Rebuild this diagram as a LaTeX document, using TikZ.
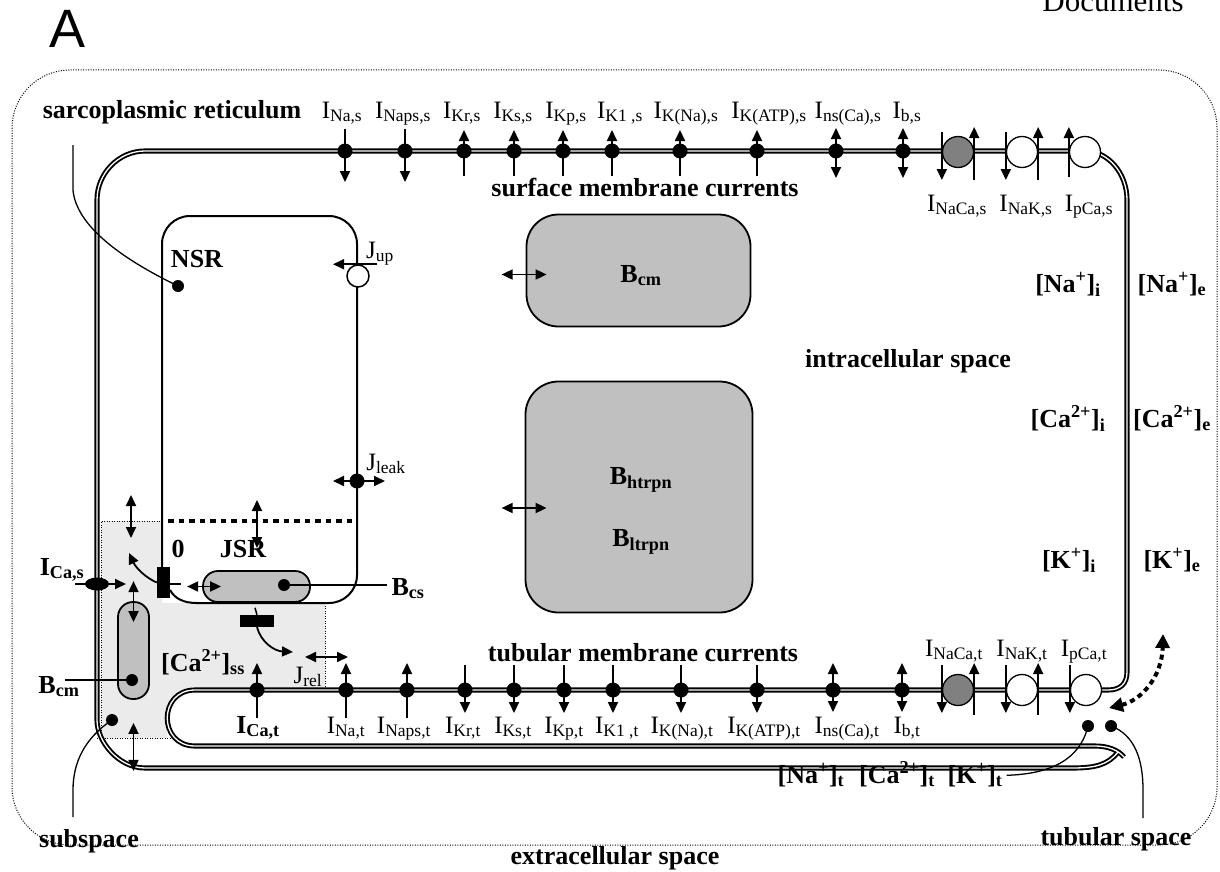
\documentclass[tikz,border=0pt]{standalone}
\usepackage{fontspec}
\setmainfont{Liberation Serif}
\newfontfamily\panelfont{Liberation Sans}
\usetikzlibrary{arrows.meta,shapes.geometric}

\definecolor{subgray}{RGB}{235,235,235}
\definecolor{bufgray}{RGB}{192,192,192}
\definecolor{exgray}{RGB}{128,128,128}

\newcommand\curfont{\fontsize{25}{28}\selectfont}
\newcommand\lblfont{\fontsize{26}{30}\selectfont\bfseries}

\tikzset{
  membrane/.style={line width=1.9pt, double=white, double distance=1.3pt},
  chan/.style={circle, fill=black, inner sep=0pt, minimum size=15pt},
  pump/.style={circle, draw, line width=1.3pt, fill=white, inner sep=0pt, minimum size=31pt},
  exch/.style={pump, fill=exgray},
  spot/.style={circle, fill=black, inner sep=0pt, minimum size=12pt},
  buffer/.style={draw, line width=1.8pt, fill=bufgray, inner sep=0pt},
  ryr/.style={fill=black, inner sep=0pt},
  flux/.style={line width=1.8pt, -{Triangle[length=11pt,width=10pt]}},
  bflux/.style={line width=1.8pt, {Triangle[length=11pt,width=10pt]}-{Triangle[length=11pt,width=10pt]}},
  dotflux/.style={line width=4pt, dash pattern=on 5pt off 4pt, {Triangle[length=14pt,width=14pt]}-{Triangle[length=14pt,width=14pt]}},
  cur/.style={font=\curfont, inner sep=0pt, anchor=base},
  lbl/.style={font=\lblfont, inner sep=0pt, anchor=base},
  lead/.style={line width=1.3pt},
  finedot/.style={line width=1pt, dash pattern=on 1pt off 1.5pt},
}

\begin{document}
\begin{tikzpicture}[x=1pt, y=-1pt]
    \useasboundingbox (0,0) rectangle (1220,872);

    \node[font={\panelfont\fontsize{54}{56}\selectfont}, inner sep=0pt, anchor=base] (panel) at (68,48) {A};
    \node[font=\fontsize{31}{34}\selectfont, inner sep=0pt, anchor=base] (docs) at (1113,12) {Documents};

    % サブスペースと細胞外の境界
    \fill[subgray] (101,521) -- (162,521) -- (162,603) -- (325,603) -- (325,690) -- (195,690) .. controls (179.5,690) and (167,702.5) .. (167,718) -- (167,738) -- (101,738) -- cycle;
    \draw[finedot] (101,738) -- (101,521) -- (162,521);
    \draw[finedot] (97,738) -- (172,738);
    \draw[finedot] (325,603) -- (325,690);
    \draw[finedot, rounded corners=58pt] (12,70) rectangle (1217,845);

    \draw[membrane] (1118,752) .. controls (1108,765) and (1095,768) .. (1072,768) -- (145,768) .. controls (118.5,768) and (97,741.5) .. (97,720) -- (97,200) .. controls (97,173.5) and (118.5,151) .. (145,151) -- (1085,151) .. controls (1108,151) and (1127,173) .. (1127,200) -- (1127,672) .. controls (1127,684) and (1120,690) .. (1108,690) -- (195,690) .. controls (158,690) and (158,746) .. (195,746) -- (1095,746) .. controls (1108,746) and (1118,750) .. (1124,757);

    % NSR / JSR
    \draw[line width=2pt, rounded corners=28pt] (196,603) -- (357,603) -- (357,216) -- (162,216) -- (162,568);
    \draw[line width=2pt] (170,590) .. controls (175,599) and (184,603) .. (197,603);
    \draw[line width=2pt] (170,584) -- (181,584);
    \draw[line width=4pt, dash pattern=on 5.5pt off 5pt] (168,521) -- (354,521);

    \node[buffer, rounded corners=32pt, minimum width=224pt, minimum height=112pt] (bcmbox) at (638.5,270.5) {};
    \node[buffer, rounded corners=33pt, minimum width=227pt, minimum height=231pt] (trpbox) at (639,497) {};
    \node[buffer, rounded corners=15pt, minimum width=107pt, minimum height=31pt] (bcs) at (256.5,586.5) {};
    \node[buffer, rounded corners=15pt, minimum width=31pt, minimum height=97pt] (bcmss) at (133.5,650.5) {};
    \node[ryr, minimum width=13pt, minimum height=31pt] (ryr1) at (163.5,582.5) {};
    \node[ryr, minimum width=34pt, minimum height=12pt] (ryr2) at (257,621) {};

    \node[lbl] (bcmtxt) at (641,282) {B\textsubscript{cm}};
    \node[lbl] (htrpn) at (641,484) {B\textsubscript{htrpn}};
    \node[lbl] (ltrpn) at (641,546) {B\textsubscript{ltrpn}};

    % 表面膜
    \node[chan] (nas) at (345,151) {};
    \node[chan] (napss) at (405,151) {};
    \node[chan] (krs) at (464,151) {};
    \node[chan] (kss) at (514,151) {};
    \node[chan] (kps) at (563,151) {};
    \node[chan] (k1s) at (612,151) {};
    \node[chan] (knas) at (680,151) {};
    \node[chan] (katps) at (757,151) {};
    \node[chan] (nscas) at (836,151) {};
    \node[chan] (bs) at (903,151) {};
    \node[exch] (ncxs) at (958,152) {};
    \node[pump] (naks) at (1022,152) {};
    \node[pump] (pcas) at (1085,152) {};

    \draw[flux] ([yshift=22pt]nas.center) -- ([yshift=-31pt]nas.center);
    \draw[flux] ([yshift=22pt]napss.center) -- ([yshift=-31pt]napss.center);
    \draw[flux] ([yshift=-25pt]krs.center) -- ([yshift=21pt]krs.center);
    \draw[flux] ([yshift=-25pt]kss.center) -- ([yshift=21pt]kss.center);
    \draw[flux] ([yshift=-25pt]kps.center) -- ([yshift=21pt]kps.center);
    \draw[flux] ([yshift=-25pt]k1s.center) -- ([yshift=21pt]k1s.center);
    \draw[flux] ([yshift=-25pt]knas.center) -- ([yshift=21pt]knas.center);
    \draw[flux] ([yshift=-25pt]katps.center) -- ([yshift=21pt]katps.center);
    \draw[bflux] ([yshift=23pt]nscas.center) -- ([yshift=-27pt]nscas.center);
    \draw[bflux] ([yshift=23pt]bs.center) -- ([yshift=-27pt]bs.center);
    \draw[flux] ([yshift=20pt]ncxs.west) -- ([yshift=-28pt]ncxs.west);
    \draw[flux] ([yshift=-28pt]ncxs.east) -- ([yshift=25pt]ncxs.east);
    \draw[flux] ([yshift=20pt]naks.west) -- ([yshift=-28pt]naks.west);
    \draw[flux] ([yshift=-28pt]naks.east) -- ([yshift=25pt]naks.east);
    \draw[flux] ([yshift=-25pt]pcas.west) -- ([yshift=25pt]pcas.west);

    \node[cur] (nasl) at (342,118) {I\textsubscript{Na,s}};
    \node[cur] (napssl) at (403,118) {I\textsubscript{Naps,s}};
    \node[cur] (krsl) at (462,118) {I\textsubscript{Kr,s}};
    \node[cur] (kssl) at (513,118) {I\textsubscript{Ks,s}};
    \node[cur] (kpsl) at (566,118) {I\textsubscript{Kp,s}};
    \node[cur] (k1sl) at (620,118) {I\textsubscript{K1 ,s}};
    \node[cur] (knasl) at (686,118) {I\textsubscript{K(Na),s}};
    \node[cur] (katpsl) at (769,118) {I\textsubscript{K(ATP),s}};
    \node[cur] (nscasl) at (848,118) {I\textsubscript{ns(Ca),s}};
    \node[cur] (bsl) at (907,118) {I\textsubscript{b,s}};
    \node[cur] (ncxsl) at (957,211) {I\textsubscript{NaCa,s}};
    \node[cur] (naksl) at (1026,211) {I\textsubscript{NaK,s}};
    \node[cur] (pcasl) at (1089,211) {I\textsubscript{pCa,s}};

    % T管膜
    \node[chan] (cat) at (257,690) {};
    \node[chan] (nat) at (346,690) {};
    \node[chan] (napst) at (407,690) {};
    \node[chan] (krt) at (465,690) {};
    \node[chan] (kst) at (514,690) {};
    \node[chan] (kpt) at (564,690) {};
    \node[chan] (k1t) at (613,690) {};
    \node[chan] (knat) at (681,690) {};
    \node[chan] (katpt) at (757,690) {};
    \node[chan] (nscat) at (833,690) {};
    \node[chan] (bt) at (902,690) {};
    \node[exch] (ncxt) at (958,690) {};
    \node[pump] (nakt) at (1022,690) {};
    \node[pump] (pcat) at (1086,690) {};

    \draw[flux] ([yshift=-28pt]cat.center) -- ([yshift=27pt]cat.center);
    \draw[flux] ([yshift=-28pt]nat.center) -- ([yshift=27pt]nat.center);
    \draw[flux] ([yshift=-28pt]napst.center) -- ([yshift=27pt]napst.center);
    \draw[flux] ([yshift=25pt]krt.center) -- ([yshift=-23pt]krt.center);
    \draw[flux] ([yshift=25pt]kst.center) -- ([yshift=-23pt]kst.center);
    \draw[flux] ([yshift=25pt]kpt.center) -- ([yshift=-23pt]kpt.center);
    \draw[flux] ([yshift=25pt]k1t.center) -- ([yshift=-23pt]k1t.center);
    \draw[flux] ([yshift=25pt]knat.center) -- ([yshift=-23pt]knat.center);
    \draw[flux] ([yshift=25pt]katpt.center) -- ([yshift=-23pt]katpt.center);
    \draw[bflux] ([yshift=27pt]nscat.center) -- ([yshift=-22pt]nscat.center);
    \draw[bflux] ([yshift=27pt]bt.center) -- ([yshift=-22pt]bt.center);
    \draw[flux] ([yshift=25pt]ncxt.west) -- ([yshift=-23pt]ncxt.west);
    \draw[flux] ([yshift=-25pt]ncxt.east) -- ([yshift=27pt]ncxt.east);
    \draw[flux] ([yshift=25pt]nakt.west) -- ([yshift=-23pt]nakt.west);
    \draw[flux] ([yshift=-25pt]nakt.east) -- ([yshift=27pt]nakt.east);
    \draw[flux] ([yshift=25pt]pcat.west) -- ([yshift=-23pt]pcat.west);

    \node[lbl] (catl) at (258,733) {I\textsubscript{Ca,t}};
    \node[cur] (natl) at (346,733) {I\textsubscript{Na,t}};
    \node[cur] (napstl) at (404,733) {I\textsubscript{Naps,t}};
    \node[cur] (krtl) at (463,733) {I\textsubscript{Kr,t}};
    \node[cur] (kstl) at (513,733) {I\textsubscript{Ks,t}};
    \node[cur] (kptl) at (564,733) {I\textsubscript{Kp,t}};
    \node[cur] (k1tl) at (617,733) {I\textsubscript{K1 ,t}};
    \node[cur] (knatl) at (682,733) {I\textsubscript{K(Na),t}};
    \node[cur] (katptl) at (764,733) {I\textsubscript{K(ATP),t}};
    \node[cur] (nscatl) at (847,733) {I\textsubscript{ns(Ca),t}};
    \node[cur] (btl) at (907,733) {I\textsubscript{b,t}};
    \node[cur] (ncxtl) at (954,656) {I\textsubscript{NaCa,t}};
    \node[cur] (naktl) at (1022,656) {I\textsubscript{NaK,t}};
    \node[cur] (pcatl) at (1084,656) {I\textsubscript{pCa,t}};

    % 小胞体まわりの流れ
    \node[pump, minimum size=22pt, line width=1.5pt] (jup) at (358,276) {};
    \node[chan] (jleak) at (357,481) {};
    \node[spot] (nsrdot) at (178,286) {};
    \node[spot] (bcsdot) at (284,585) {};
    \node[spot] (bcmssdot) at (132,680) {};
    \node[spot] (ssdot) at (112,720) {};
    \node[spot] (tdot1) at (1088,726) {};
    \node[spot] (tdot2) at (1111,726) {};
    \node[fill, ellipse, inner sep=0pt, minimum width=24pt, minimum height=13pt] (icas) at (97,584) {};

    \node[cur] (juplbl) at (380,258) {J\textsubscript{up}};
    \node[cur] (jleaklbl) at (386,470) {J\textsubscript{leak}};
    \node[cur] (jrel) at (308,683) {J\textsubscript{rel}};
    \node[lbl] (nsr) at (197,267) {NSR};
    \node[lbl] (zero) at (178,557) {0};
    \node[lbl] (jsr) at (243,557) {JSR};
    \node[lbl] (bcslbl) at (408,595) {B\textsubscript{cs}};
    \node[lbl] (bcmsslbl) at (59,693) {B\textsubscript{cm}};
    \node[lbl] (icaslbl) at (62,575) {I\textsubscript{Ca,s}};
    \node[lbl] (cass) at (203,671) {[Ca\textsuperscript{2+}]\textsubscript{ss}};

    \coordinate (srtop) at (73,145);
    \coordinate (sstop) at (131,495);
    \coordinate (ssmid) at (131,538);
    \coordinate (ryr1to) at (129,553);
    \coordinate (ryr2to) at (293,652);
    \coordinate (bcmssend) at (65,680);
    \coordinate (sslead) at (73,817);
    \coordinate (tsend) at (1143,818);
    \coordinate (mouthL) at (1109,708);
    \coordinate (mouthR) at (1163,634);

    \draw[flux] ([xshift=19pt]jup.north) -- ([xshift=-25pt]jup.north);
    \draw[bflux] ([xshift=-24pt]jleak.center) -- ([xshift=28pt]jleak.center);
    \draw[bflux] ([shift={(14pt,57pt)}]jsr.base) -- ([shift={(14pt,9pt)}]jsr.base);
    \draw[bflux] (sstop) -- (ssmid);
    \draw[flux] (ryr1.west) .. controls (146,578) and (136,568) .. (ryr1to);
    \draw[line width=1.5pt] (ryr2.north) -- ([shift={(-2pt,7pt)}]ryr2.north);
    \draw[flux] (ryr2.south) .. controls (261,642) and (274,651) .. (ryr2to);
    \draw[bflux] ([shift={(-3pt,26pt)}]jrel.base) -- ([shift={(40pt,26pt)}]jrel.base);
    \draw[flux] ([xshift=-22pt]icas.center) -- ([xshift=29pt]icas.center);
    \draw[bflux] ([yshift=20pt]bcmss.north) -- ([yshift=-21pt]bcmss.north);
    \draw[bflux] ([xshift=-15pt]bcs.west) -- ([xshift=19pt]bcs.west);
    \draw[bflux] ([yshift=-23pt]bcmss.south) -- ([yshift=-71pt]bcmss.south);
    \draw[bflux] ([xshift=-24pt,yshift=-4pt]bcmbox.west) -- ([xshift=21pt,yshift=-4pt]bcmbox.west);
    \draw[bflux] ([xshift=-23pt,yshift=-11pt]trpbox.west) -- ([xshift=22pt,yshift=-11pt]trpbox.west);
    \draw[dotflux] (mouthL) .. controls (1142,700) and (1162,676) .. (mouthR);

    \draw[lead] (srtop) -- (73,190) .. controls (76,225) and (120,258) .. (nsrdot.center);
    \draw[lead] (bcsdot.center) -- ([xshift=-4pt]bcsdot -| bcslbl.west);
    \draw[lead] (bcmssdot.center) -- (bcmssend);
    \draw[lead] (ssdot.center) .. controls (85,738) and (73,762) .. (73,790) -- (sslead);

    % ラベル
    \node[lbl] (srlbl) at (172,119) {sarcoplasmic reticulum};
    \node[lbl] (surflbl) at (645,196) {surface membrane currents};
    \node[lbl] (tublbl) at (643,661) {tubular membrane currents};
    \node[lbl] (intra) at (908,367) {intracellular space};
    \node[lbl] (extra) at (615,864) {extracellular space};
    \node[lbl] (sslbl) at (89,847) {subspace};
    \node[lbl] (tslbl) at (1116,845) {tubular space};

    \node[lbl] (nai) at (1068,292) {[Na\textsuperscript{+}]\textsubscript{i}};
    \node[lbl] (nae) at (1172,292) {[Na\textsuperscript{+}]\textsubscript{e}};
    \node[lbl] (cai) at (1068,427) {[Ca\textsuperscript{2+}]\textsubscript{i}};
    \node[lbl] (cae) at (1172,427) {[Ca\textsuperscript{2+}]\textsubscript{e}};
    \node[lbl] (ki) at (1069,568) {[K\textsuperscript{+}]\textsubscript{i}};
    \node[lbl] (ke) at (1172,568) {[K\textsuperscript{+}]\textsubscript{e}};
    \node[lbl] (natub) at (811,783) {[Na\textsuperscript{+}]\textsubscript{t}};
    \node[lbl] (catub) at (897,783) {[Ca\textsuperscript{2+}]\textsubscript{t}};
    \node[lbl] (ktub) at (975,783) {[K\textsuperscript{+}]\textsubscript{t}};

    \draw[lead] ([xshift=4pt]ktub.east) .. controls (1050,774) and (1080,760) .. (tdot1.center);
    \draw[lead] (tdot2.center) .. controls (1135,735) and (1143,760) .. (1143,790) -- (tsend);

  \end{tikzpicture}
\end{document}
